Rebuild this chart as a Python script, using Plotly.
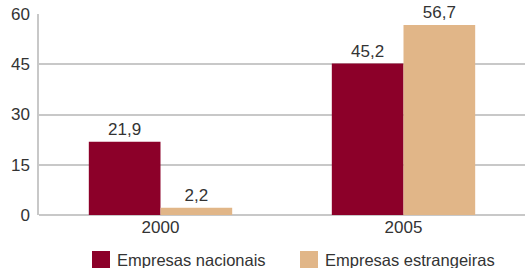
import plotly.graph_objects as go

categories = ["2000", "2005"]
nacionais = [21.9, 45.2]
estrangeiras = [2.2, 56.7]
y_ticks = [0, 15, 30, 45, 60]
series_names = ["Empresas nacionais", "Empresas estrangeiras"]
colors = ["#8C0029", "#E1B688"]

FONT = "Liberation Sans, Arial, sans-serif"
TXT = "#333333"

fig = go.Figure()
for name, vals, col in zip(series_names, [nacionais, estrangeiras], colors):
    fig.add_trace(go.Bar(
        x=categories, y=vals, name=name,
        marker=dict(color=col, line=dict(width=0)),
        texttemplate="%{y:.1f}", textposition="outside",
        textfont=dict(family=FONT, size=17, color=TXT), cliponaxis=False,
        hoverinfo="skip",
    ))

W, H = 525, 268
l, r, t, b = 39, 0, 14, 268 - 215
pw, ph = W - l - r, H - t - b

def px2x(px):
    return (px - l) / pw

def py2y(py):
    return (H - b - py) / ph

legend_x = [92, 300]
for lx, name, col in zip(legend_x, series_names, colors):
    fig.add_shape(type="rect", xref="paper", yref="paper",
                  x0=px2x(lx), x1=px2x(lx + 18), y0=py2y(270), y1=py2y(251),
                  fillcolor=col, line=dict(width=0), layer="above")
    fig.add_annotation(xref="paper", yref="paper", x=px2x(lx + 23), y=py2y(260),
                       xanchor="left", yanchor="middle", text=name, showarrow=False,
                       font=dict(family=FONT, size=16.5, color=TXT))

fig.update_layout(
    width=W, height=H,
    margin=dict(l=l, r=r, t=t, b=b, autoexpand=False),
    paper_bgcolor="white", plot_bgcolor="white",
    barmode="group", bargap=0.41, bargroupgap=0,
    separators=",.",
    font=dict(family=FONT, size=16, color=TXT),
    showlegend=False,
    xaxis=dict(showline=False, ticks="", tickfont=dict(size=17), automargin=False),
    yaxis=dict(range=[0, 60], tickvals=y_ticks, showgrid=True, gridcolor="#C8C8C8",
               gridwidth=1.5, zeroline=True, zerolinecolor="#C8C8C8", zerolinewidth=1.5,
               showline=True, linecolor="#C8C8C8", linewidth=1.5,
               tickfont=dict(size=17), ticks="", ticklabelstandoff=4, automargin=False),
)

fig.write_html("out.html",
               config={"displayModeBar": False},
               post_script="document.body.style.margin='0';document.body.style.overflow='hidden';")
